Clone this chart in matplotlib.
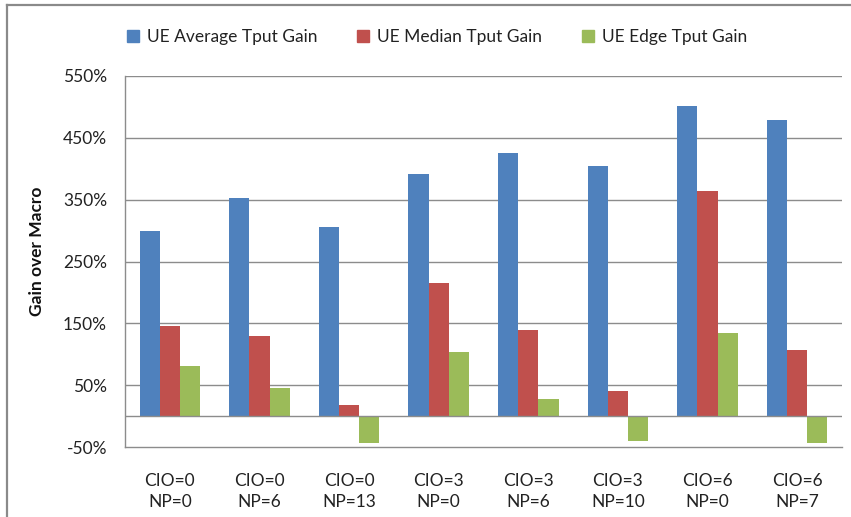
import matplotlib
matplotlib.use("Agg")
import matplotlib.pyplot as plt
from matplotlib.lines import Line2D
import numpy as np

plt.rcParams['font.family'] = ['Lato', 'DejaVu Sans']

categories = ["CIO=0\nNP=0", "CIO=0\nNP=6", "CIO=0\nNP=13", "CIO=3\nNP=0",
              "CIO=3\nNP=6", "CIO=3\nNP=10", "CIO=6\nNP=0", "CIO=6\nNP=7"]
avg_gain = [299, 353, 305, 392, 425, 404, 501, 479]
median_gain = [145, 130, 18, 215, 139, 40, 364, 107]
edge_gain = [81, 46, -43, 103, 27, -41, 134, -43]
series_names = ["UE Average Tput Gain", "UE Median Tput Gain", "UE Edge Tput Gain"]
colors = ["#4F81BD", "#C0504D", "#9BBB59"]
yticks = [-50, 50, 150, 250, 350, 450, 550]

W, H = 851, 517
fig = plt.figure(figsize=(W / 100, H / 100), dpi=100)
ax = fig.add_axes([125 / W, 1 - 447 / H, (842 - 125) / W, (447 - 76) / H])

x = np.arange(len(categories))
bw = 0.225
for i, (vals, name, c) in enumerate(zip([avg_gain, median_gain, edge_gain], series_names, colors)):
    ax.bar(x + (i - 1) * bw, vals, bw, color=c, label=name, zorder=3, linewidth=0)

ax.set_xlim(-0.5, len(categories) - 0.5)
ax.set_ylim(-50, 550)
ax.set_yticks(yticks)
ax.set_yticklabels([f"{v}%" for v in yticks], fontsize=12.5, color="#222222")
ax.set_xticks(x)
ax.set_xticklabels(categories, fontsize=12.5, color="#222222", linespacing=1.35)
ax.tick_params(axis='x', length=0, pad=19)
ax.tick_params(axis='y', length=0, pad=13)

for v in [50, 150, 250, 350, 450, 550]:
    ax.axhline(v, color="#8c8c8c", linewidth=1.0, zorder=1)
ax.axhline(0, color="#8c8c8c", linewidth=1.0, zorder=4)

for s in ["top", "right"]:
    ax.spines[s].set_visible(False)
for s in ["left", "bottom"]:
    ax.spines[s].set_color("#8c8c8c")
    ax.spines[s].set_linewidth(1.0)

fig.text(37 / W, 1 - 251 / H, "Gain over Macro", rotation=90, ha="center", va="center",
         fontsize=12.5, fontweight="bold", color="#111111")

handles = [plt.Rectangle((0, 0), 1, 1, color=c) for c in colors]
fig.legend(handles, series_names, loc="center", bbox_to_anchor=(437 / W, 1 - 37 / H),
           ncol=3, frameon=False, fontsize=12.5, handlelength=0.7, handleheight=0.7,
           handletextpad=0.45, columnspacing=2.3, labelcolor="#222222")

# chart frame along the top and left edges
fig.add_artist(Line2D([7 / W, 1], [1 - 5 / H, 1 - 5 / H], transform=fig.transFigure,
                      color="#8a8a8a", linewidth=1.6))
fig.add_artist(Line2D([7 / W, 7 / W], [0, 1 - 5 / H], transform=fig.transFigure,
                      color="#8a8a8a", linewidth=1.6))

fig.savefig("out.png", dpi=100, facecolor="white")
